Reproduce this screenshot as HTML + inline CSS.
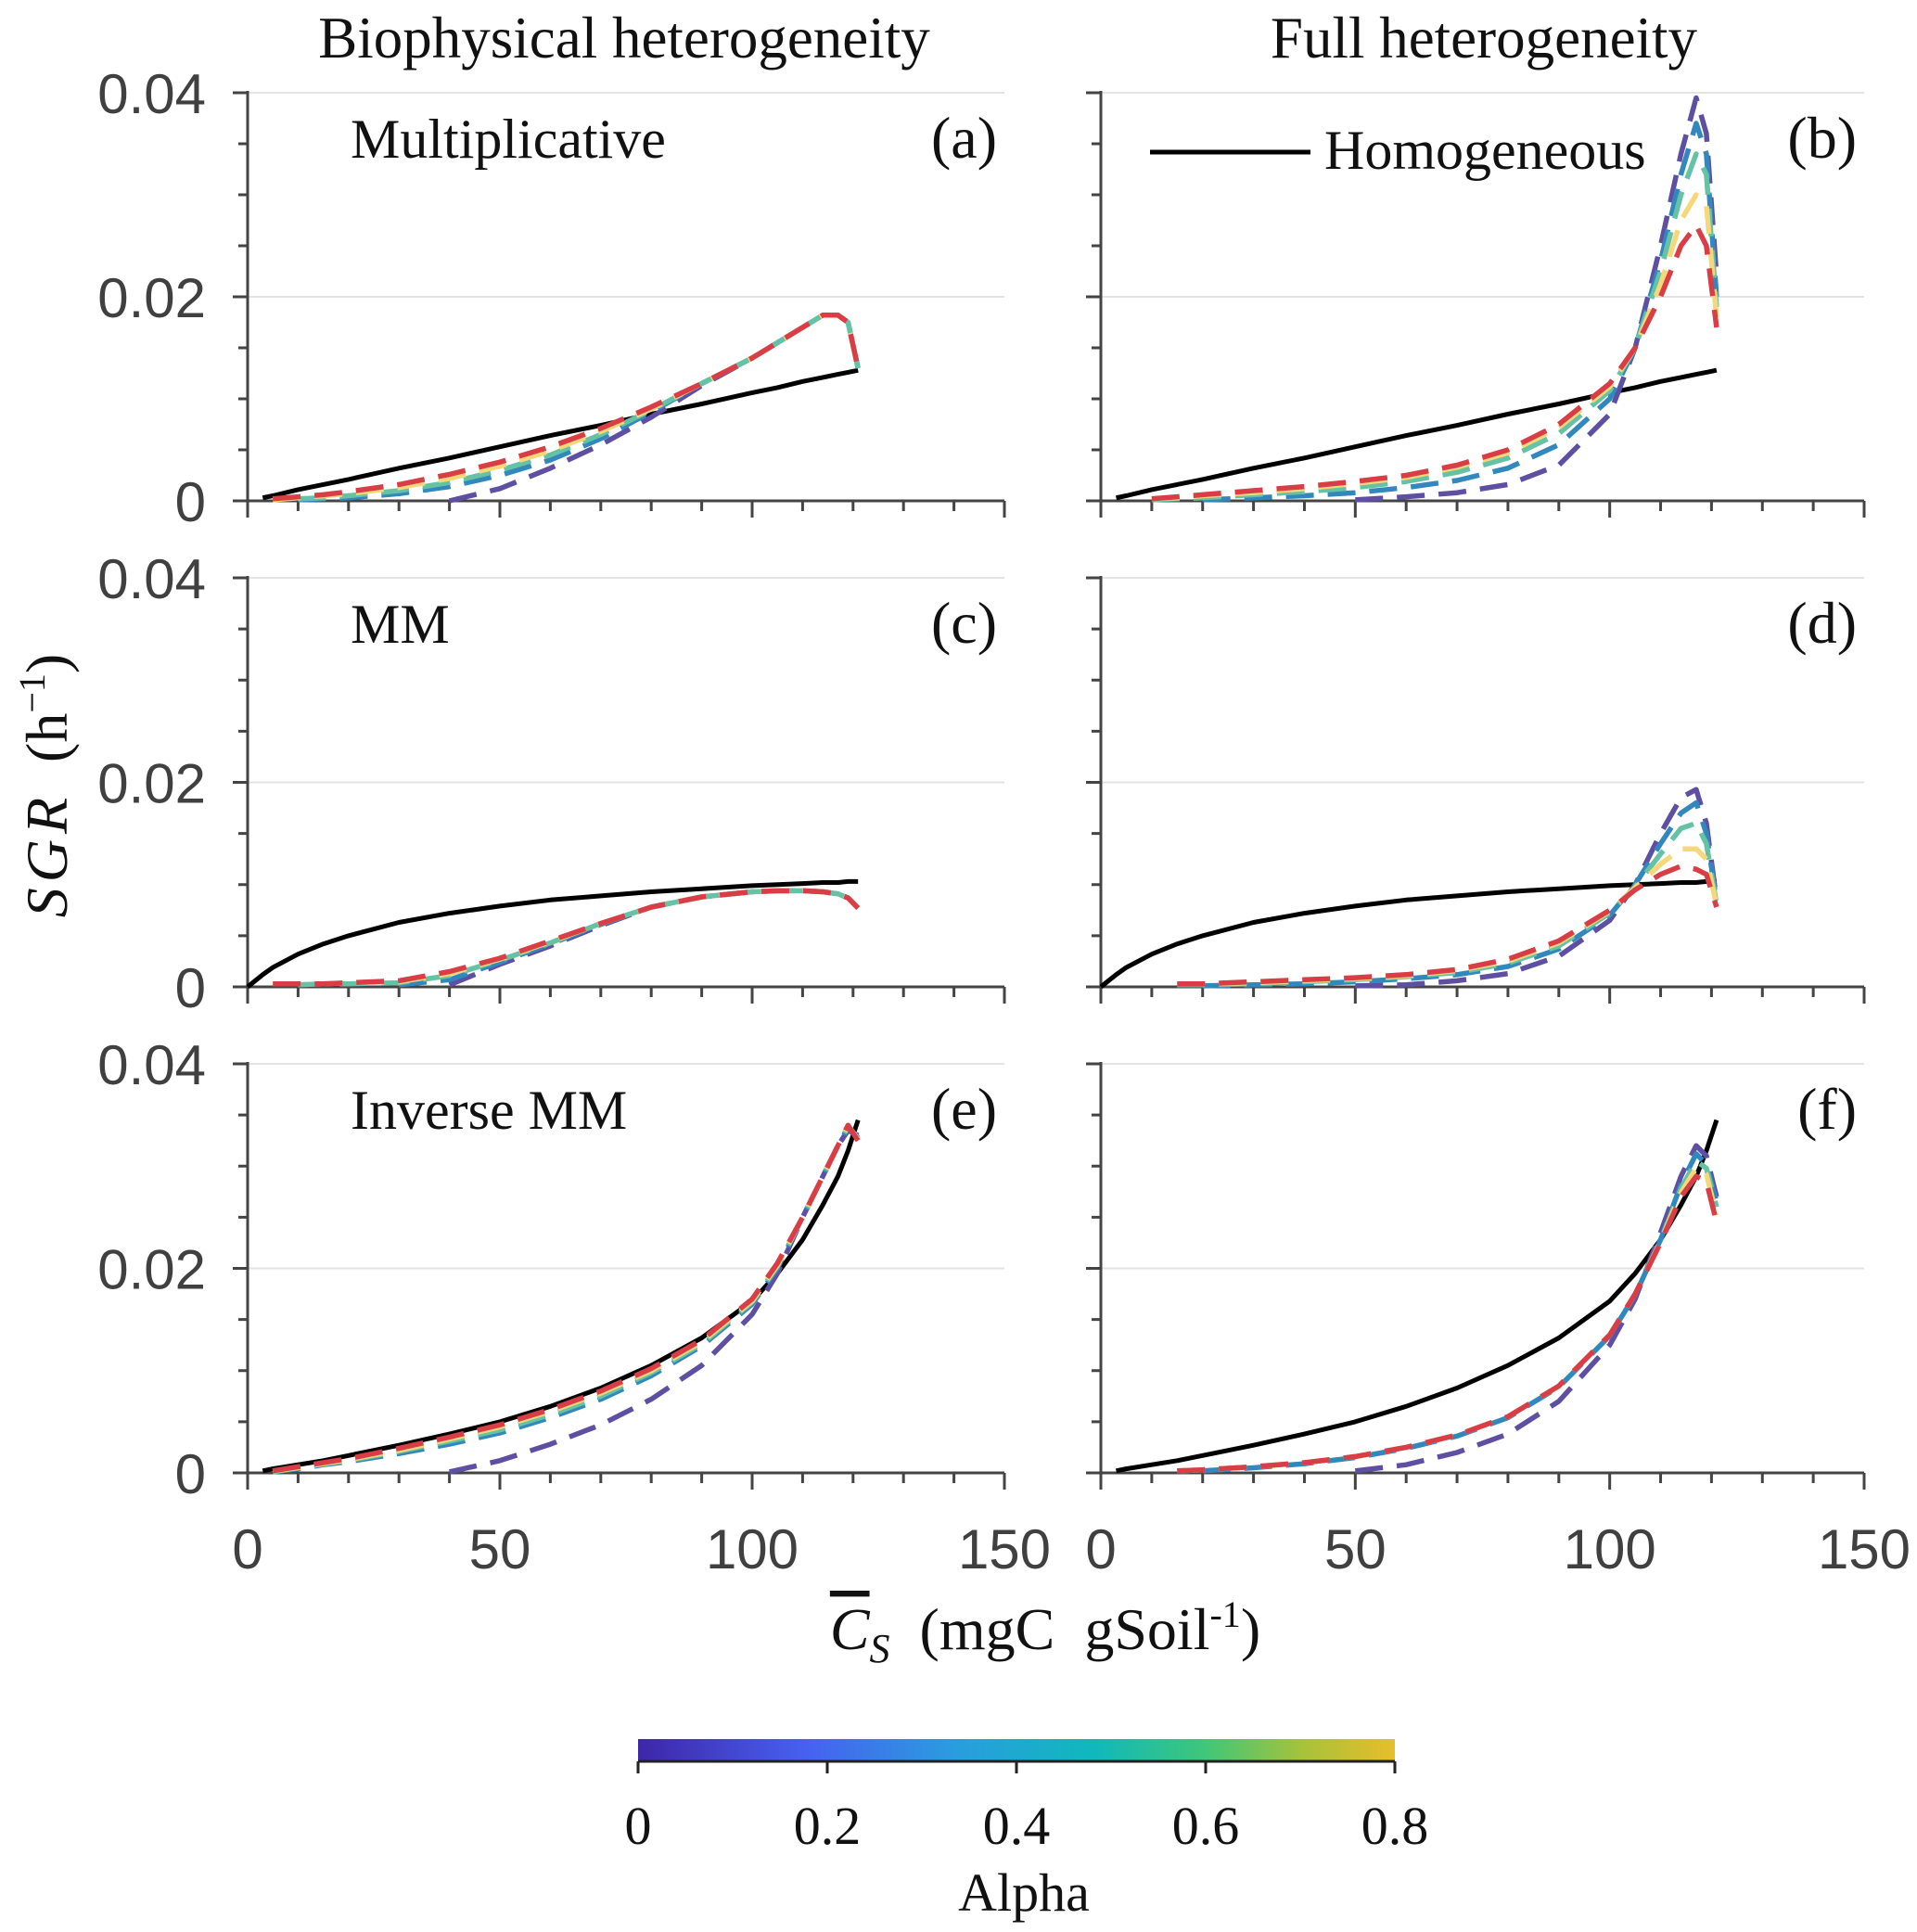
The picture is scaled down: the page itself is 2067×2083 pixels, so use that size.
<!DOCTYPE html>
<html><head><meta charset="utf-8"><style>
html,body{margin:0;padding:0;background:#fff;}
svg{display:block;}
.tick{font-family:"Liberation Sans",sans-serif;font-size:60px;fill:#404040;}
.serif{font-family:"Liberation Serif",serif;fill:#111;}
</style></head><body>
<svg id="chart" width="2067" height="2083" viewBox="0 0 2067 2083" xmlns="http://www.w3.org/2000/svg">
<defs>
<linearGradient id="parula" x1="0" x2="1" y1="0" y2="0">
<stop offset="0" stop-color="#3e26a8"/><stop offset="0.22" stop-color="#4760f0"/>
<stop offset="0.42" stop-color="#2a9ddf"/><stop offset="0.6" stop-color="#0fb8bd"/>
<stop offset="0.75" stop-color="#40c679"/><stop offset="0.88" stop-color="#a8c23a"/>
<stop offset="1" stop-color="#e8bd2a"/></linearGradient>
</defs>
<g id="root"></g>
</svg>
<script>
const n = null;
const xs = [0,3,5,10,15,20,30,40,50,60,70,80,90,100,105,110,114,117,119,121];
const alphaLevels = [0,0.2,0.4,0.6,0.8];
const alphaColors = ["#5e4fa2","#3288bd","#66c2a5","#f6d77a","#d93d45"];
const xTicks = [0,50,100,150];
const yTicks = [0,0.02,0.04];
const yTickLabels = ["0","0.02","0.04"];
const cbTicks = [0,0.2,0.4,0.6,0.8];

const homA = [n,.0003,.0005,.0011,.0016,.0021,.0032,.0042,.0053,.0064,.0074,.0085,.0095,.0106,.0111,.0117,.0121,.0124,.0126,.0128];
const homC = [0,.0012,.0019,.0032,.0042,.0050,.0063,.0072,.0079,.0085,.0089,.0093,.0096,.0099,.0100,.0101,.0102,.0102,.0103,.0103];
const homE = [n,.0002,.0004,.0008,.0012,.0017,.0027,.0038,.0050,.0065,.0083,.0105,.0132,.0168,.0195,.0228,.0262,.0290,.0315,.0345];

const panelA = [
 [n,n,n,n,n,n,n,.0000,.0012,.0032,.0055,.0082,.0113,.0140,.0155,.0170,.0182,.0182,.0175,.0130],
 [n,n,n,.0001,.0002,.0003,.0007,.0014,.0025,.0040,.0061,.0087,.0115,.0140,.0155,.0170,.0182,.0182,.0175,.0130],
 [n,n,n,.0002,.0003,.0005,.0010,.0018,.0030,.0045,.0065,.0089,.0115,.0140,.0155,.0170,.0182,.0182,.0175,.0130],
 [n,n,.0001,.0003,.0005,.0007,.0013,.0022,.0034,.0049,.0068,.0090,.0115,.0140,.0155,.0170,.0182,.0182,.0175,.0130],
 [n,n,.0002,.0004,.0006,.0009,.0016,.0026,.0038,.0053,.0071,.0092,.0115,.0140,.0155,.0170,.0182,.0182,.0175,.0130]];
const panelB = [
 [n,n,n,n,n,n,n,n,.0001,.0004,.0008,.0016,.0035,.0085,.0150,.0250,.0340,.0395,.0360,.0220],
 [n,n,n,n,n,.0001,.0003,.0005,.0008,.0013,.0020,.0032,.0055,.0100,.0150,.0235,.0320,.0370,.0340,.0200],
 [n,n,n,.0001,.0002,.0003,.0006,.0009,.0013,.0019,.0028,.0042,.0066,.0108,.0150,.0225,.0300,.0340,.0320,.0190],
 [n,n,n,.0002,.0003,.0005,.0008,.0012,.0017,.0023,.0033,.0047,.0072,.0112,.0150,.0212,.0275,.0300,.0290,.0180],
 [n,n,n,.0002,.0004,.0006,.0010,.0014,.0019,.0025,.0035,.0050,.0075,.0115,.0150,.0200,.0250,.0270,.0250,.0170]];
const panelC = [
 [n,n,n,n,n,n,n,.0002,.0022,.0040,.0060,.0078,.0088,.0093,.0094,.0094,.0093,.0091,.0087,.0077],
 [n,n,n,n,n,n,.0002,.0007,.0024,.0042,.0061,.0078,.0088,.0093,.0094,.0094,.0093,.0091,.0087,.0077],
 [n,n,n,.0002,.0003,.0003,.0004,.0011,.0026,.0043,.0062,.0078,.0088,.0093,.0094,.0094,.0093,.0091,.0087,.0077],
 [n,n,.0003,.0003,.0003,.0004,.0005,.0013,.0027,.0044,.0062,.0078,.0088,.0093,.0094,.0094,.0093,.0091,.0087,.0077],
 [n,n,.0003,.0003,.0003,.0004,.0006,.0015,.0028,.0045,.0062,.0078,.0088,.0093,.0094,.0094,.0093,.0091,.0087,.0077]];
const panelD = [
 [n,n,n,n,n,n,n,n,.0001,.0002,.0006,.0013,.0030,.0065,.0100,.0150,.0185,.0193,.0160,.0085],
 [n,n,n,n,n,.0001,.0002,.0003,.0005,.0008,.0012,.0020,.0037,.0070,.0100,.0140,.0170,.0180,.0150,.0083],
 [n,n,n,n,.0002,.0002,.0003,.0005,.0007,.0010,.0014,.0023,.0040,.0072,.0098,.0130,.0155,.0160,.0140,.0081],
 [n,n,n,n,.0003,.0003,.0004,.0006,.0008,.0011,.0016,.0025,.0043,.0074,.0097,.0120,.0135,.0135,.0125,.0080],
 [n,n,n,n,.0003,.0003,.0005,.0007,.0009,.0012,.0017,.0027,.0045,.0075,.0095,.0110,.0118,.0115,.0110,.0078]];
const panelE = [
 [n,n,n,n,n,n,n,.0001,.0012,.0028,.0047,.0072,.0105,.0155,.0195,.0250,.0290,.0320,.0335,.0330],
 [n,n,.0001,.0004,.0008,.0011,.0019,.0028,.0039,.0054,.0072,.0095,.0124,.0165,.0200,.0250,.0290,.0320,.0338,.0328],
 [n,n,.0001,.0005,.0009,.0012,.0021,.0031,.0042,.0057,.0075,.0098,.0126,.0167,.0202,.0250,.0290,.0320,.0339,.0327],
 [n,n,.0002,.0005,.0009,.0013,.0022,.0033,.0045,.0060,.0078,.0100,.0128,.0168,.0203,.0250,.0290,.0320,.0340,.0326],
 [n,n,.0002,.0006,.0010,.0014,.0024,.0035,.0047,.0062,.0080,.0102,.0130,.0170,.0205,.0250,.0290,.0320,.0340,.0325]];
const panelF = [
 [n,n,n,n,n,n,n,n,.0002,.0008,.0020,.0038,.0070,.0125,.0170,.0235,.0290,.0320,.0310,.0270],
 [n,n,n,n,n,.0002,.0005,.0009,.0015,.0024,.0036,.0054,.0084,.0134,.0174,.0228,.0282,.0312,.0302,.0265],
 [n,n,n,n,.0002,.0003,.0006,.0010,.0016,.0025,.0037,.0055,.0085,.0135,.0175,.0227,.0278,.0305,.0298,.0260],
 [n,n,n,n,.0002,.0003,.0006,.0010,.0016,.0025,.0037,.0055,.0085,.0135,.0175,.0226,.0274,.0298,.0292,.0252],
 [n,n,n,n,.0002,.0003,.0006,.0010,.0016,.0025,.0037,.0055,.0085,.0135,.0175,.0225,.0270,.0290,.0285,.0245]];

const NS = "http://www.w3.org/2000/svg";
const root = document.getElementById("root");
function mk(tag, attrs, parent, text){
  const e = document.createElementNS(NS, tag);
  for (const k in attrs) e.setAttribute(k, attrs[k]);
  if (text !== undefined) e.textContent = text;
  (parent || root).appendChild(e);
  return e;
}
const cols = [{x0:267,x1:1083},{x0:1187,x1:2010}];
const rows = [{y0:540,y1:100},{y0:1064,y1:623},{y0:1588,y1:1147}];
const panels = [
 {id:"a",c:0,r:0,hom:homA,alpha:panelA,name:"Multiplicative"},
 {id:"b",c:1,r:0,hom:homA,alpha:panelB},
 {id:"c",c:0,r:1,hom:homC,alpha:panelC,name:"MM"},
 {id:"d",c:1,r:1,hom:homC,alpha:panelD},
 {id:"e",c:0,r:2,hom:homE,alpha:panelE,name:"Inverse MM"},
 {id:"f",c:1,r:2,hom:homE,alpha:panelF}];

panels.forEach(p => {
  const C = cols[p.c], R = rows[p.r];
  const sx = v => C.x0 + (v/150)*(C.x1-C.x0);
  const sy = v => R.y0 - (v/0.04)*(R.y0-R.y1);
  const g = mk("g", {});
  
  
  [0.02,0.04].forEach(v => {
    const gl = mk("line",{x1:C.x0,x2:C.x1,y1:sy(v),y2:sy(v),stroke:"#e3e3e3","stroke-width":2},g);
    
    
  });
  for (let v=0; v<=0.04001; v+=0.005){
    const major = Math.abs(v/0.02 - Math.round(v/0.02))<1e-6;
    mk("line",{x1:C.x0-(major?16:10),x2:C.x0,y1:sy(v),y2:sy(v),stroke:"#444","stroke-width":3},g);
  }
  for (let v=0; v<=150; v+=10){
    const major = v%50===0;
    mk("line",{x1:sx(v),x2:sx(v),y1:R.y0,y2:R.y0+(major?18:11),stroke:"#444","stroke-width":3},g);
  }
  const ya = mk("line",{x1:C.x0,x2:C.x0,y1:R.y1-2,y2:R.y0+18,stroke:"#444","stroke-width":3},g);
  
  
  const xa = mk("line",{x1:C.x0-16,x2:C.x1,y1:R.y0,y2:R.y0,stroke:"#444","stroke-width":3},g);
  
  
  if (p.c===0){
    yTicks.forEach((v,i)=>{
      const t = mk("text",{x:222,y:sy(v)+22,"text-anchor":"end",class:"tick"},g,yTickLabels[i]);
      
      
    });
  }
  if (p.r===2){
    xTicks.forEach(v=>{
      const t = mk("text",{x:sx(v),y:1691,"text-anchor":"middle",class:"tick"},g,String(v));
      
      
    });
  }
  function pathOf(arr){
    let d="", pen=false;
    arr.forEach((v,i)=>{
      if (v===null){pen=false;return;}
      d += (pen?"L":"M") + sx(xs[i]).toFixed(1) + "," + sy(v).toFixed(1) + " ";
      pen=true;
    });
    return d;
  }
  const hl = mk("path",{d:pathOf(p.hom),fill:"none",stroke:"#000","stroke-width":5,"stroke-linejoin":"round"},g);
  
  
  p.alpha.forEach((arr,k)=>{
    const l = mk("path",{d:pathOf(arr),fill:"none",stroke:alphaColors[k],"stroke-width":5.5,"stroke-dasharray":"30 15","stroke-linejoin":"round"},g);
    
    
  });
  const pl = mk("text",{x:C.x1-8,y:R.y1+70,"text-anchor":"end",class:"serif","font-size":64},g,"("+p.id+")");
  
  
  if (p.name){
    const nm = mk("text",{x:378,y:R.y1+70,class:"serif","font-size":60},g,p.name);
    
    
  }
});

const t1 = mk("text",{x:673,y:62,"text-anchor":"middle",class:"serif","font-size":63},root,"Biophysical heterogeneity");


const t2 = mk("text",{x:1600,y:62,"text-anchor":"middle",class:"serif","font-size":63},root,"Full heterogeneity");


const lg = mk("g",{});


mk("line",{x1:1240,x2:1413,y1:164,y2:164,stroke:"#000","stroke-width":5},lg);
mk("text",{x:1428,y:182,class:"serif","font-size":60},lg,"Homogeneous");
const yl = mk("text",{transform:"translate(72,847) rotate(-90)","text-anchor":"middle",class:"serif","font-size":64},root);


mk("tspan",{"font-style":"italic","letter-spacing":"6"},yl,"SGR");
mk("tspan",{},yl,"\u00a0\u00a0(h");
mk("tspan",{dy:-24,"font-size":40},yl,"−1");
mk("tspan",{dy:24},yl,")");
const xl = mk("text",{x:1127,y:1778,"text-anchor":"middle",class:"serif","font-size":64},root);


mk("tspan",{"font-style":"italic","text-decoration":"overline"},xl,"C");
mk("tspan",{"font-style":"italic",dy:14,"font-size":44},xl,"S");
mk("tspan",{dy:-14},xl,"\u00a0\u00a0(mgC\u00a0\u00a0gSoil");
mk("tspan",{dy:-24,"font-size":40},xl,"-1");
mk("tspan",{dy:24},xl,")");
const cb = mk("g",{});


const cx0=688, cx1=1504;
const cs = v => cx0 + (v/0.8)*(cx1-cx0);
mk("rect",{x:cx0,y:1875,width:cx1-cx0,height:23,fill:"url(#parula)"},cb);
mk("line",{x1:cx0,x2:cx1,y1:1899,y2:1899,stroke:"#222","stroke-width":3},cb);
cbTicks.forEach(v=>{
  mk("line",{x1:cs(v),x2:cs(v),y1:1899,y2:1912,stroke:"#222","stroke-width":3},cb);
  const t = mk("text",{x:cs(v),y:1988,"text-anchor":"middle",class:"serif","font-size":58},cb,String(v));
  
  
});
const al = mk("text",{x:1104,y:2060,"text-anchor":"middle",class:"serif","font-size":58},root,"Alpha");


</script>
</body></html>
